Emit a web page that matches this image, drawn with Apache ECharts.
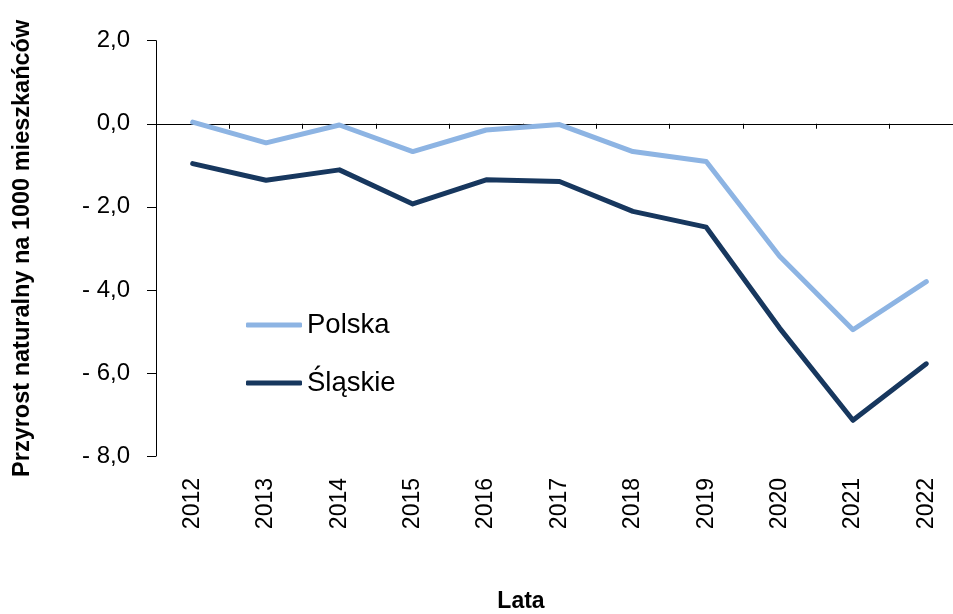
<!DOCTYPE html>
<html>
<head>
<meta charset="utf-8">
<script src="https://cdn.jsdelivr.net/npm/echarts@6/dist/echarts.min.js"></script>
<style>
	html, body { margin: 0; padding: 0; background: #fff; }
	#chart { width: 953px; height: 614px; }
</style>
</head>
<body>
<div id="chart"></div>
<script>
	// lata
	var years = ['2012', '2013', '2014', '2015', '2016', '2017', '2018', '2019', '2020', '2021', '2022'];
	// przyrost naturalny na 1000 mieszkańców
	var polska = [0.04, -0.46, -0.03, -0.67, -0.15, -0.02, -0.67, -0.91, -3.19, -4.96, -3.80];
	var slaskie = [-0.96, -1.36, -1.11, -1.93, -1.35, -1.39, -2.11, -2.49, -4.92, -7.14, -5.78];
	var yTicks = [-8, -6, -4, -2, 0, 2];

	var font = 'Liberation Sans, Arial, sans-serif';

	function fmt(v) {
		var s = Math.abs(v).toFixed(1).replace('.', ',');
		return v < 0 ? '- ' + s : s;
	}

	var chart = echarts.init(document.getElementById('chart'));
	chart.setOption({
		animation: false,
		backgroundColor: '#fff',
		grid: { left: 156, right: -10, top: 40.7, bottom: 158, outerBoundsMode: 'none' },
		legend: {
			orient: 'vertical',
			left: 241,
			top: 305,
			itemWidth: 56,
			itemHeight: 5,
			itemGap: 28,
			icon: 'roundRect',
			textStyle: { fontFamily: font, fontSize: 27.5, color: '#000', lineHeight: 30 },
			data: ['Polska', 'Śląskie']
		},
		xAxis: [
			{
				// oś na zerze, tylko kreski
				type: 'category',
				data: years,
				axisLine: { onZero: true, lineStyle: { color: '#000', width: 1 } },
				axisTick: { show: true, length: 5, lineStyle: { color: '#000' } },
				axisLabel: { show: false },
				splitLine: { show: false }
			},
			{
				// etykiety lat na dole
				type: 'category',
				data: years,
				position: 'bottom',
				axisLine: { show: false, onZero: false },
				axisTick: { show: false },
				axisLabel: { rotate: 90, margin: 22, fontFamily: font, fontSize: 23, color: '#000' },
				name: 'Lata',
				nameLocation: 'middle',
				nameGap: 134,
				nameTextStyle: { fontFamily: font, fontSize: 23, fontWeight: 'bold', color: '#000', padding: [0, 77, 0, 0] }
			}
		],
		yAxis: {
			type: 'value',
			min: yTicks[0],
			max: yTicks[yTicks.length - 1],
			interval: 2,
			axisLine: { show: true, lineStyle: { color: '#000', width: 1 } },
			axisTick: { show: true, length: 9, lineStyle: { color: '#000' } },
			splitLine: { show: false },
			axisLabel: { margin: 26, fontFamily: font, fontSize: 24, color: '#000', formatter: fmt },
			name: 'Przyrost naturalny na 1000 mieszkańców',
			nameLocation: 'middle',
			nameRotate: 90,
			nameGap: 121,
			nameTextStyle: { fontFamily: font, fontSize: 23.5, fontWeight: 'bold', color: '#000' }
		},
		series: [
			{
				name: 'Polska',
				type: 'line',
				xAxisIndex: 0,
				data: polska,
				symbol: 'none',
				color: '#8DB4E3',
				lineStyle: { width: 5, color: '#8DB4E3', cap: 'round', join: 'round' }
			},
			{
				name: 'Śląskie',
				type: 'line',
				xAxisIndex: 0,
				data: slaskie,
				symbol: 'none',
				color: '#17375E',
				lineStyle: { width: 5, color: '#17375E', cap: 'round', join: 'round' }
			}
		]
	});
</script>
</body>
</html>
